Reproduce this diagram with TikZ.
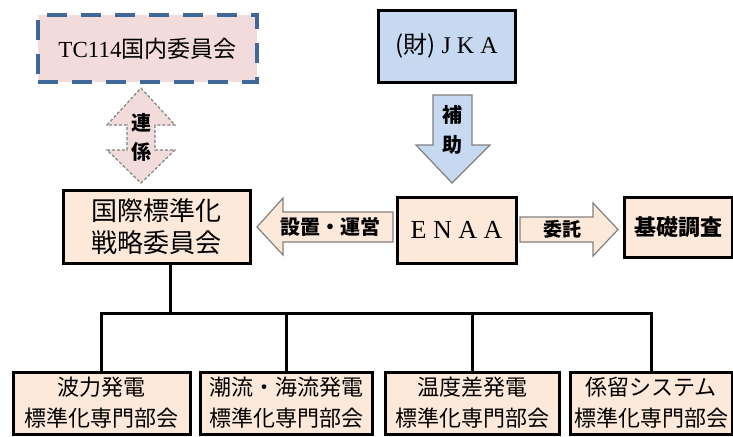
\documentclass[tikz,border=0pt]{standalone}
\usepackage{fontspec}
\setmainfont{Liberation Serif}
\newfontfamily\cjk{Noto Sans CJK JP}
\definecolor{pinkfill}{HTML}{F2DCDB}
\definecolor{bluefill}{HTML}{C6D9F1}
\definecolor{peach}{HTML}{FDE9D9}
\definecolor{dashblue}{HTML}{3F6797}

\begin{document}
\begin{tikzpicture}[x=0.5pt,y=-0.5pt,
	box/.style={draw=black,line width=1.5pt,fill=peach,inner sep=0pt,align=center},
	bottombox/.style={box,minimum height=31pt,font=\cjk\fontsize{11}{15.5}\selectfont},
	blockarrow/.style={draw=gray,line width=0.6pt,fill=peach},
	lbl/.style={inner sep=0pt,font=\cjk\fontsize{10}{12}\selectfont\bfseries}]
	\useasboundingbox (0,0) rectangle (733,436);
	\node[box,draw=dashblue,line width=2pt,dash pattern=on 10pt off 7pt,fill=pinkfill,minimum width=109.5pt,minimum height=33.5pt] (tc) at (147.5,48.5) {\fontsize{11.5}{14}\selectfont TC114{\cjk 国内委員会}};
	\node[box,fill=bluefill,minimum width=68.5pt,minimum height=36pt] (jka) at (446.5,46) {\fontsize{12}{14}\selectfont{\cjk (財)} J K A};
	\node[box,minimum width=93.5pt,minimum height=36.5pt,font=\cjk\fontsize{13}{16}\selectfont] (senryaku) at (156.5,226.5) {国際標準化\\戦略委員会};
	\node[box,minimum width=59.5pt,minimum height=33pt,font=\fontsize{13}{15}\selectfont] (enaa) at (456.5,230) {E N A A};
	\node[box,minimum width=54pt,minimum height=30pt,font=\cjk\fontsize{11}{13}\selectfont\bfseries] (kiso) at (678,227) {基礎調査};

	\draw[draw=gray,line width=0.6pt,dash pattern=on 1.5pt off 1pt,fill=pinkfill] (141,88) -- (175,125) -- (155,125) -- (155,150) -- (175,150) -- (141,183) -- (107,150) -- (127,150) -- (127,125) -- (107,125) -- cycle;
	\node[lbl] (ren) at (141,123) {連};
	\node[lbl] (kei) at (141,152) {係};

	\draw[blockarrow,fill=bluefill] (433,95) -- (472,95) -- (472,145) -- (490,145) -- (452,183) -- (416,145) -- (433,145) -- cycle;
	\node[lbl] (ho) at (452,115) {補};
	\node[lbl] (jo) at (452,145) {助};

	\draw[blockarrow] (257,227) -- (283,198) -- (283,212) -- (393,212) -- (393,242) -- (283,242) -- (283,255) -- cycle;
	\node[lbl] (setchi) at (330,227) {設置・運営};

	\draw[blockarrow] (520,217) -- (593,217) -- (593,203) -- (618,229.5) -- (593,256) -- (593,242) -- (520,242) -- cycle;
	\node[lbl,font=\cjk\fontsize{9.5}{12}\selectfont\bfseries] (itaku) at (562,229.5) {委託};

	\node[bottombox,minimum width=88.5pt] (b1) at (101.5,403) {波力発電\\標準化専門部会};
	\node[bottombox,minimum width=86pt] (b2) at (286,403) {潮流・海流発電\\標準化専門部会};
	\node[bottombox,minimum width=87pt] (b3) at (472,403) {温度差発電\\標準化専門部会};
	\node[bottombox,minimum width=81pt] (b4) at (651,403) {係留システム\\標準化専門部会};

	\coordinate (bar) at (170,313);
	\draw[line width=1.5pt] (senryaku.south -| bar) -- (bar);
	\draw[line width=1.5pt] (b1.north) |- (bar);
	\draw[line width=1.5pt] (b2.north) |- (bar);
	\draw[line width=1.5pt] (b3.north) |- (bar);
	\draw[line width=1.5pt] (b4.north) |- (bar);
\end{tikzpicture}
\end{document}
